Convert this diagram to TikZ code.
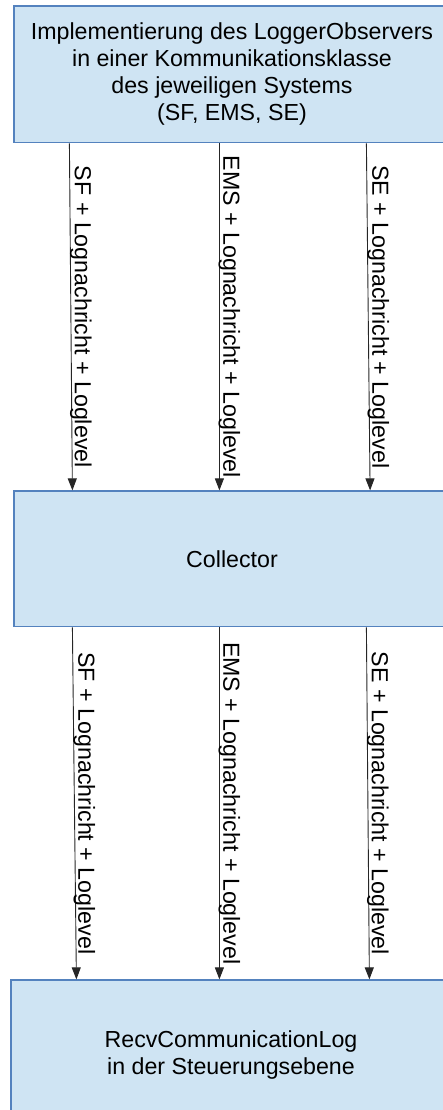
\documentclass[tikz,border=0pt]{standalone}
\usepackage{fontspec}
\setmainfont{Liberation Sans}
\usetikzlibrary{arrows.meta,calc}
\definecolor{boxfill}{RGB}{207,228,243}
\definecolor{boxline}{RGB}{84,130,190}
\begin{document}
\begin{tikzpicture}[x=1pt,y=-1pt,
  blk/.style={draw=boxline, fill=boxfill, line width=1.2pt, rectangle,
    align=center, inner sep=0pt, font=\fontsize{23.2}{27}\selectfont},
  flow/.style={draw=black!85, line width=0.9pt,
    -{Triangle[length=12pt,width=9pt]}},
  lbl/.style={midway, rotate=-90, anchor=base, yshift=4pt, inner sep=0pt,
    font=\fontsize{23.2}{27}\selectfont}]
\useasboundingbox (0,0) rectangle (443,1110);
\clip (0,0) rectangle (443,1110);

% the three system blocks
\node[blk, minimum width=436pt, minimum height=136.7pt] (impl) at (232,74.35)
  {Implementierung des LoggerObservers\\in einer Kommunikationsklasse\\des jeweiligen Systems\\(SF, EMS, SE)};
\node[blk, minimum width=436pt, minimum height=135.7pt] (coll) at (232,558.85)
  {Collector};
\node[blk, minimum width=440pt, minimum height=150pt] (recv) at (231,1055)
  {RecvCommunicationLog\\in der Steuerungsebene};

% observer -> collector
\draw[flow] ($(impl.south west)+(56,0)$) --
  node[lbl]{SF + Lognachricht + Loglevel} ($(coll.north west)+(59,0)$);
\draw[flow] ($(impl.south west)+(206,0)$) --
  node[lbl]{EMS + Lognachricht + Loglevel} ($(coll.north west)+(206,0)$);
\draw[flow] ($(impl.south west)+(353,0)$) --
  node[lbl]{SE + Lognachricht + Loglevel} ($(coll.north west)+(356.7,0)$);

% collector -> control layer
\draw[flow] ($(coll.south west)+(59,0)$) --
  node[lbl]{SF + Lognachricht + Loglevel} ($(recv.north west)+(66,0)$);
\draw[flow] ($(coll.south west)+(206,0)$) --
  node[lbl]{EMS + Lognachricht + Loglevel} ($(recv.north west)+(209,0)$);
\draw[flow] ($(coll.south west)+(353,0)$) --
  node[lbl]{SE + Lognachricht + Loglevel} ($(recv.north west)+(359,0)$);
\end{tikzpicture}
\end{document}
